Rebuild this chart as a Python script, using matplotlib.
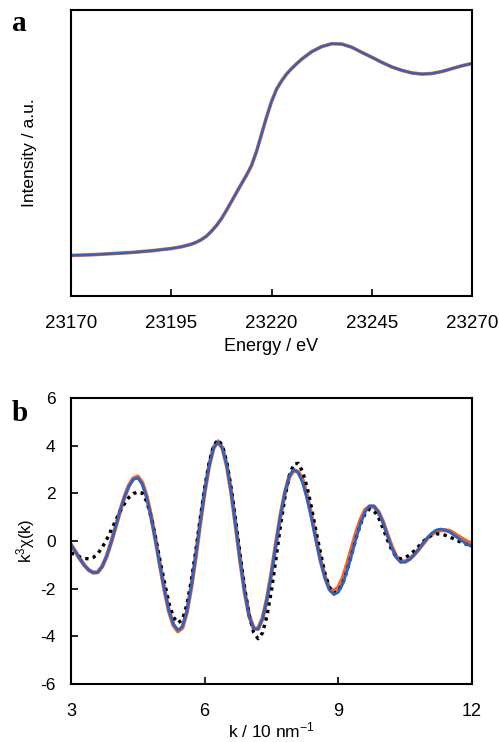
import matplotlib
matplotlib.use('Agg')
import matplotlib.pyplot as plt

plt.rcParams['font.family'] = ['Liberation Sans', 'DejaVu Sans']
plt.rcParams['mathtext.default'] = 'regular'
plt.rcParams['axes.unicode_minus'] = False

# panel a: XANES spectrum (normalised intensity)
energy = [23170, 23172.5, 23175, 23177.5, 23180, 23182.5, 23185, 23187.5, 23190, 23192.5,
          23195, 23197.5, 23200, 23201.25, 23202.5, 23203.75, 23205, 23206.25, 23207.5,
          23208.75, 23210, 23211.25, 23212.5, 23213.75, 23215, 23216.25, 23217.5,
          23218.75, 23220, 23221.25, 23222.5, 23223.75, 23225, 23226.25, 23227.5,
          23230, 23232.5, 23235, 23237.5, 23240, 23242.5,
          23245, 23247.5, 23250, 23252.5, 23255, 23257.5, 23260, 23262.5, 23265, 23267.5,
          23270]
intensity = [0.142, 0.143, 0.144, 0.146, 0.148, 0.150, 0.152, 0.155, 0.158, 0.162,
             0.166, 0.172, 0.181, 0.188, 0.197, 0.209, 0.226, 0.246, 0.270,
             0.299, 0.330, 0.361, 0.392, 0.422, 0.456, 0.505, 0.565,
             0.625, 0.680, 0.723, 0.752, 0.776, 0.795, 0.812, 0.828,
             0.854, 0.872, 0.882, 0.881, 0.870, 0.852,
             0.835, 0.817, 0.801, 0.789, 0.780, 0.776, 0.778, 0.785, 0.795, 0.805,
             0.813]
energy_ticks = [23170, 23195, 23220, 23245, 23270]

# panel b: EXAFS oscillations
k = [3.0, 3.1, 3.2, 3.3, 3.4, 3.5, 3.6, 3.7, 3.8, 3.9,
     4.0, 4.1, 4.2, 4.3, 4.4, 4.5, 4.6, 4.7, 4.8, 4.9,
     5.0, 5.1, 5.2, 5.3, 5.4, 5.5, 5.6, 5.7, 5.8, 5.9,
     6.0, 6.1, 6.2, 6.3, 6.4, 6.5, 6.6, 6.7, 6.8, 6.9,
     7.0, 7.1, 7.2, 7.3, 7.4, 7.5, 7.6, 7.7, 7.8, 7.9,
     8.0, 8.1, 8.2, 8.3, 8.4, 8.5, 8.6, 8.7, 8.8, 8.9,
     9.0, 9.1, 9.2, 9.3, 9.4, 9.5, 9.6, 9.7, 9.8, 9.9,
     10.0, 10.1, 10.2, 10.3, 10.4, 10.5, 10.6, 10.7, 10.8, 10.9,
     11.0, 11.1, 11.2, 11.3, 11.4, 11.5, 11.6, 11.7, 11.8, 11.9,
     12.0]
chi_blue = [-0.16, -0.45, -0.75, -1.02, -1.22, -1.33, -1.31, -1.07, -0.64, -0.06,
            0.58, 1.25, 1.83, 2.30, 2.58, 2.65, 2.39, 1.82, 0.98, -0.02,
            -1.08, -2.08, -2.94, -3.49, -3.74, -3.59, -2.96, -1.92, -0.65, 0.76,
            2.07, 3.16, 3.90, 4.15, 3.88, 3.12, 1.97, 0.56, -0.88, -2.19,
            -3.17, -3.68, -3.70, -3.26, -2.43, -1.35, -0.13, 1.06, 2.03, 2.73,
            3.00, 2.87, 2.44, 1.76, 0.93, 0.01, -0.86, -1.57, -2.06, -2.25,
            -2.15, -1.80, -1.24, -0.58, 0.11, 0.74, 1.21, 1.47, 1.47, 1.22,
            0.79, 0.24, -0.28, -0.69, -0.89, -0.88, -0.77, -0.58, -0.35, -0.10,
            0.14, 0.33, 0.46, 0.50, 0.46, 0.37, 0.24, 0.10, -0.03, -0.15,
            -0.24]
chi_orange = [-0.16, -0.45, -0.75, -1.02, -1.22, -1.33, -1.31, -1.07, -0.64, -0.06,
              0.58, 1.25, 1.85, 2.33, 2.63, 2.70, 2.44, 1.86, 1.02, 0.02,
              -1.05, -2.08, -2.96, -3.54, -3.79, -3.64, -2.98, -1.92, -0.65, 0.76,
              2.07, 3.16, 3.92, 4.18, 3.90, 3.14, 1.99, 0.58, -0.86, -2.17,
              -3.15, -3.66, -3.68, -3.24, -2.41, -1.33, -0.11, 1.06, 2.01, 2.70,
              2.97, 2.90, 2.55, 1.88, 1.04, 0.10, -0.80, -1.50, -2.00, -2.10,
              -1.95, -1.55, -0.95, -0.30, 0.35, 0.90, 1.30, 1.45, 1.44, 1.22,
              0.82, 0.28, -0.24, -0.65, -0.86, -0.86, -0.76, -0.58, -0.36, -0.12,
              0.11, 0.29, 0.41, 0.46, 0.45, 0.42, 0.31, 0.19, 0.07, -0.03,
              -0.12]
chi_dot = [-0.50, -0.58, -0.67, -0.73, -0.75, -0.69, -0.53, -0.27, 0.06, 0.45,
           0.85, 1.24, 1.56, 1.83, 1.99, 2.05, 2.01, 1.65, 1.00, 0.12,
           -0.85, -1.75, -2.62, -3.20, -3.44, -3.30, -2.68, -1.66, -0.42, 0.95,
           2.22, 3.29, 4.00, 4.25, 4.00, 3.27, 2.16, 0.80, -0.65, -2.01,
           -3.12, -3.85, -4.10, -3.85, -3.13, -2.06, -0.74, 0.61, 1.83, 2.75,
           3.23, 3.26, 2.90, 2.25, 1.38, 0.40, -0.50, -1.37, -1.95, -2.19,
           -2.11, -1.78, -1.23, -0.56, 0.12, 0.71, 1.15, 1.34, 1.27, 0.99,
           0.55, 0.05, -0.38, -0.67, -0.75, -0.70, -0.58, -0.42, -0.23, -0.03,
           0.13, 0.25, 0.30, 0.29, 0.24, 0.17, 0.08, -0.01, -0.09, -0.15,
           -0.20]
k_ticks = [3, 6, 9, 12]
chi_ticks = [-6, -4, -2, 0, 2, 4, 6]

blue = '#2d63c2'
orange = '#f2642a'

fig = plt.figure(figsize=(4.99, 7.42), dpi=100)
ax1 = fig.add_axes([0.1423, 0.6011, 0.8036, 0.3854])
ax2 = fig.add_axes([0.1423, 0.0782, 0.8036, 0.3854])

# --- a ---
ax1.plot(energy, intensity, color=orange, lw=2.6)
ax1.plot(energy, intensity, color=blue, lw=1.7)
ax1.set_xlim(23170, 23270)
ax1.set_ylim(0, 1)
ax1.set_xticks(energy_ticks)
ax1.set_yticks([])
ax1.tick_params(axis='x', direction='in', length=5, width=1.2, pad=14, labelsize=13.5)
ax1.set_xlabel('Energy / eV', fontsize=13, labelpad=4)
ax1.set_ylabel('Intensity / a.u.', fontsize=12.5)
ax1.yaxis.set_label_coords(-0.085, 0.5)
fig.text(0.024, 0.958, 'a', family=['Liberation Serif'], fontweight='bold', fontsize=21)

# --- b ---
ax2.plot(k, chi_orange, color=orange, lw=3.0)
ax2.plot(k, chi_dot, color='black', lw=2.4, linestyle=(0, (1, 1.3)))
ax2.plot(k, chi_blue, color=blue, lw=2.0)
ax2.set_xlim(3, 12)
ax2.set_ylim(-6, 6)
ax2.set_xticks(k_ticks)
ax2.set_yticks(chi_ticks)
ax2.tick_params(axis='both', direction='in', length=5, width=1.2)
ax2.tick_params(axis='x', pad=14, labelsize=13)
ax2.tick_params(axis='y', pad=11, labelsize=12.5)
ax2.set_xlabel('k / 10 nm$^{-1}$', fontsize=12.5, labelpad=0)
ax2.set_ylabel('k$^{3}$χ(k)', fontsize=12)
ax2.yaxis.set_label_coords(-0.085, 0.5)
fig.text(0.024, 0.432, 'b', family=['Liberation Serif'], fontweight='bold', fontsize=21)

for ax in (ax1, ax2):
    for s in ax.spines.values():
        s.set_linewidth(1.5)

fig.savefig('out.png', dpi=100)
